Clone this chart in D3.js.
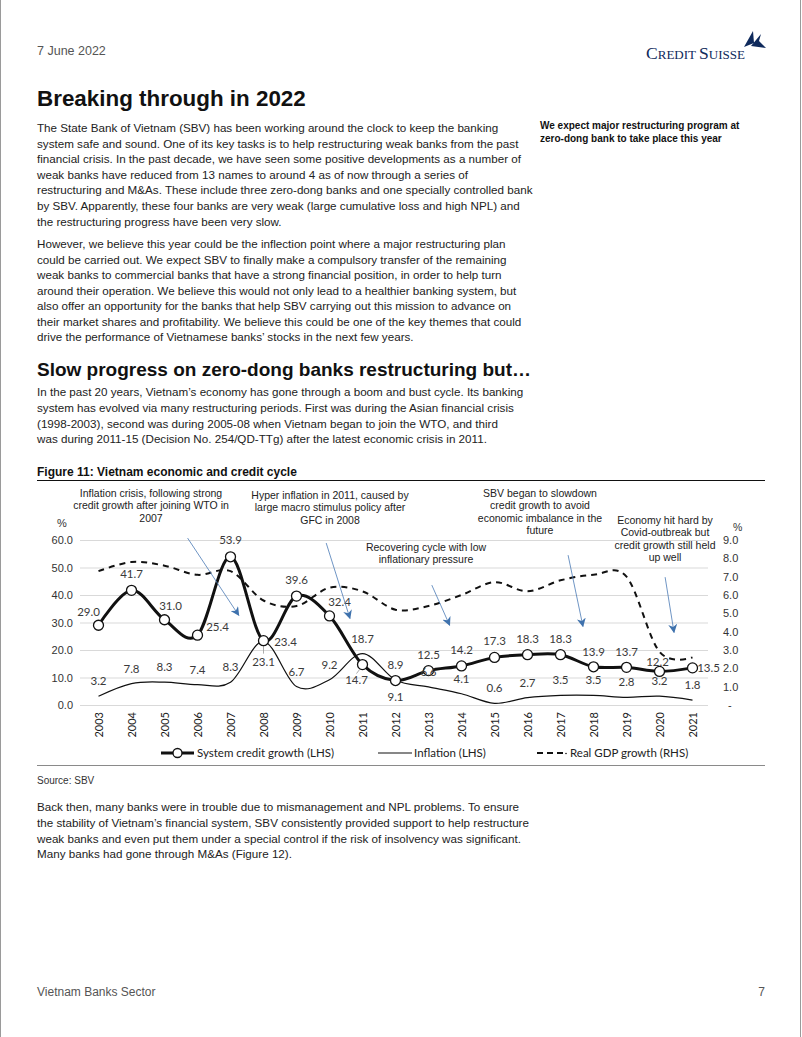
<!DOCTYPE html>
<html>
<head>
<meta charset="utf-8">
<script src="https://cdn.jsdelivr.net/npm/d3@7"></script>
<style>
  html, body { margin: 0; padding: 0; background: #fff; }
  svg { display: block; }
</style>
</head>
<body>
<script>
// ---------- DATA ----------
const years = [2003,2004,2005,2006,2007,2008,2009,2010,2011,2012,2013,2014,2015,2016,2017,2018,2019,2020,2021];
const creditGrowth = [29.0,41.7,31.0,25.4,53.9,23.4,39.6,32.4,14.7,8.9,12.5,14.2,17.3,18.3,18.3,13.9,13.7,12.2,13.5];
const inflation = [3.2,7.8,8.3,7.4,8.3,23.1,6.7,9.2,18.7,9.1,6.6,4.1,0.6,2.7,3.5,3.5,2.8,3.2,1.8];
const gdpGrowth = [7.3,7.8,7.6,7.1,7.3,5.7,5.4,6.4,6.2,5.2,5.4,6.0,6.7,6.2,6.8,7.1,7.0,2.9,2.6];
const leftTicks = [0,10,20,30,40,50,60];
const rightTicks = [0,1,2,3,4,5,6,7,8,9];
const seriesNames = ["System credit growth (LHS)", "Inflation (LHS)", "Real GDP growth (RHS)"];

// ---------- PAGE ----------
const W = 802, H = 1037;
const svg = d3.select("body").append("svg").attr("width", W).attr("height", H);
svg.append("rect").attr("width", W).attr("height", H).attr("fill", "#fff");
svg.append("line").attr("x1",0.5).attr("x2",0.5).attr("y1",0).attr("y2",H).attr("stroke","#9a9a9a");
svg.append("line").attr("x1",800.5).attr("x2",800.5).attr("y1",0).attr("y2",H).attr("stroke","#9a9a9a");

const bodyFont = "'Liberation Sans', Arial, Helvetica, sans-serif";
const calFont = "Lato, 'Open Sans', sans-serif";
const textCol = "#222";

// header
svg.append("text").attr("x",37).attr("y",55).attr("font-family",bodyFont).attr("font-size",12.5)
  .attr("fill","#555").text("7 June 2022");
const logo = svg.append("text").attr("x",646).attr("y",59).attr("font-family","'Liberation Serif', 'DejaVu Serif', serif")
  .attr("fill","#0f2a5c").attr("textLength",99).attr("lengthAdjust","spacingAndGlyphs");
logo.append("tspan").attr("font-size",17.5).text("C");
logo.append("tspan").attr("font-size",13).text("REDIT ");
logo.append("tspan").attr("font-size",17.5).text("S");
logo.append("tspan").attr("font-size",13).text("UISSE");
svg.append("path").attr("d","M744,47 L753,31 L754,43 Z").attr("fill","#0f2a5c");
svg.append("path").attr("d","M751,46 L761,34 L759,41 L766,48 Z").attr("fill","#0f2a5c");

// title
svg.append("text").attr("x",37).attr("y",106).attr("font-family",bodyFont).attr("font-weight","bold")
  .attr("font-size",22.4).attr("fill","#111").text("Breaking through in 2022");

// side note
svg.append("text").attr("x",540).attr("y",129).attr("font-family",bodyFont).attr("font-weight","bold")
  .attr("font-size",10).attr("fill","#111")
  .selectAll("tspan").data(["We expect major restructuring program at","zero-dong bank to take place this year"])
  .join("tspan").attr("x",540).attr("dy",(d,i)=>i?12.5:0).text(d=>d);

function para(lines, x, y0, lh) {
  const t = svg.append("text").attr("font-family",bodyFont).attr("font-size",11.65).attr("fill",textCol);
  lines.forEach((l,i)=>{ t.append("tspan").attr("x",x).attr("y",y0+i*lh).text(l); });
}
para([
  "The State Bank of Vietnam (SBV) has been working around the clock to keep the banking",
  "system safe and sound. One of its key tasks is to help restructuring weak banks from the past",
  "financial crisis. In the past decade, we have seen some positive developments as a number of",
  "weak banks have reduced from 13 names to around 4 as of now through a series of",
  "restructuring and M&As. These include three zero-dong banks and one specially controlled bank",
  "by SBV. Apparently, these four banks are very weak (large cumulative loss and high NPL) and",
  "the restructuring progress have been very slow."
], 37, 132, 15.6);
para([
  "However, we believe this year could be the inflection point where a major restructuring plan",
  "could be carried out. We expect SBV to finally make a compulsory transfer of the remaining",
  "weak banks to commercial banks that have a strong financial position, in order to help turn",
  "around their operation.  We believe this would not only lead to a healthier banking system, but",
  "also offer an opportunity for the banks that help SBV carrying out this mission to advance on",
  "their market shares and profitability. We believe this could be one of the key themes that could",
  "drive the performance of Vietnamese banks\u2019 stocks in the next few years."
], 37, 248, 15.5);

svg.append("text").attr("x",37).attr("y",376).attr("font-family",bodyFont).attr("font-weight","bold")
  .attr("font-size",19).attr("fill","#111").text("Slow progress on zero-dong banks restructuring but\u2026");

para([
  "In the past 20 years, Vietnam\u2019s economy has gone through a boom and bust cycle. Its banking",
  "system has evolved via many restructuring periods. First was during the Asian financial crisis",
  "(1998-2003), second was during 2005-08 when Vietnam began to join the WTO, and third",
  "was during 2011-15 (Decision No. 254/QD-TTg) after the latest economic crisis in 2011."
], 37, 396, 15.8);

// figure title
svg.append("text").attr("x",37).attr("y",476).attr("font-family",bodyFont).attr("font-weight","bold")
  .attr("font-size",12).attr("fill","#111").text("Figure 11: Vietnam economic and credit cycle");
svg.append("line").attr("x1",37).attr("x2",765).attr("y1",480.5).attr("y2",480.5).attr("stroke","#111").attr("stroke-width",1);

// ---------- CHART ----------
const x = d3.scalePoint().domain(years).range([82,709]).padding(0.5);
const xl = d3.scaleLinear().domain([2003,2021]).range([x(2003), x(2021)]);
const yL = d3.scaleLinear().domain([0,60]).range([705,540]);
const yR = d3.scaleLinear().domain([0,9]).range([705,540]);
const gridX0 = 80, gridX1 = 708;

const g = svg.append("g");
// gridlines
g.append("g").selectAll("line").data(leftTicks).join("line")
  .attr("x1",gridX0).attr("x2",gridX1).attr("y1",d=>yL(d)+0.5).attr("y2",d=>yL(d)+0.5)
  .attr("stroke","#d9d9d9").attr("stroke-width",1);

// left axis
const axL = g.append("g").attr("transform","translate(76,0)")
  .call(d3.axisLeft(yL).tickValues(leftTicks).tickFormat(d3.format(".1f")).tickSize(0).tickPadding(3));
axL.select(".domain").remove();
axL.selectAll("text").attr("font-family",bodyFont).attr("font-size",11).attr("fill","#333");
// right axis
const axR = g.append("g").attr("transform","translate(719,0)")
  .call(d3.axisRight(yR).tickValues(rightTicks).tickFormat(d=> d===0 ? "-" : d.toFixed(1)).tickSize(0).tickPadding(4));
axR.select(".domain").remove();
axR.selectAll("text").attr("font-family",bodyFont).attr("font-size",11).attr("fill","#333")
  .attr("dx", d=> d===0 ? 5 : 0);
// % labels
g.append("text").attr("x",57).attr("y",527).attr("font-family",bodyFont).attr("font-size",11).attr("fill","#333").text("%");
g.append("text").attr("x",733).attr("y",531).attr("font-family",bodyFont).attr("font-size",10.5).attr("fill","#333").text("%");

// x axis
const axX = g.append("g").attr("transform","translate(0,705)")
  .call(d3.axisBottom(x).tickSize(0).tickPadding(0));
axX.select(".domain").remove();
axX.selectAll("text").attr("font-family",calFont).attr("font-size",11).attr("fill","#222")
  .attr("text-anchor","end").attr("transform","translate(0,7) rotate(-90)").attr("dy","0.35em").attr("y",0).attr("x",0);

const curve = d3.curveCatmullRom.alpha(0);
const lineL = (arr) => d3.line().x((d,i)=>x(years[i])).y(d=>yL(d)).curve(curve)(arr);
const lineR = (arr) => d3.line().x((d,i)=>x(years[i])).y(d=>yR(d)).curve(curve)(arr);

// GDP dashed
g.append("path").attr("d",lineR(gdpGrowth)).attr("fill","none").attr("stroke","#111")
  .attr("stroke-width",2).attr("stroke-dasharray","6,5");
// inflation
g.append("path").attr("d",lineL(inflation)).attr("fill","none").attr("stroke","#111").attr("stroke-width",1.2);
// credit
g.append("path").attr("d",lineL(creditGrowth)).attr("fill","none").attr("stroke","#111").attr("stroke-width",3);

// leader lines
const leaderCol = "#999";
g.append("line").attr("x1",x(2008)).attr("x2",x(2008)).attr("y1",yL(creditGrowth[5])+5).attr("y2",yL(creditGrowth[5])+13)
  .attr("stroke",leaderCol).attr("stroke-width",0.8);
g.append("line").attr("x1",x(2011)-3).attr("x2",x(2011)-6).attr("y1",yL(creditGrowth[8])+5).attr("y2",yL(creditGrowth[8])+9)
  .attr("stroke",leaderCol).attr("stroke-width",0.8);

g.append("g").selectAll("circle").data(creditGrowth).join("circle")
  .attr("cx",(d,i)=>x(years[i])).attr("cy",d=>yL(d)).attr("r",5)
  .attr("fill","#fff").attr("stroke","#111").attr("stroke-width",1.3);

// data labels (offsets of label centres relative to point)
const creditLabelOffset = [[-10,-13],[0,-16],[6,-14],[20,-8],[0,-17],[22,1],[0,-16],[10,-14],[-6,15],[0,-16],
  [0,-16],[0,-16],[0,-16],[0,-16],[0,-16],[0,-15],[0,-15],[-2,-9],[16,0]];
const inflLabelOffset = years.map((y,i)=> y===2008 ? [0,20] : (y===2012 ? [0,17] : [0,-15]));
const labFmt = d3.format(".1f");
g.append("g").selectAll("text").data(creditGrowth).join("text")
  .attr("x",(d,i)=>x(years[i])+creditLabelOffset[i][0]).attr("y",(d,i)=>yL(d)+creditLabelOffset[i][1])
  .attr("dy","0.35em").attr("text-anchor","middle").attr("font-family",calFont).attr("font-size",11.5)
  .attr("fill","#3a3a3a").text(d=>labFmt(d));
g.append("g").selectAll("text").data(inflation).join("text")
  .attr("x",(d,i)=>x(years[i])+inflLabelOffset[i][0]).attr("y",(d,i)=>yL(d)+inflLabelOffset[i][1])
  .attr("dy","0.35em").attr("text-anchor","middle").attr("font-family",calFont).attr("font-size",11.5)
  .attr("fill","#3a3a3a").text(d=>labFmt(d));

// annotations
const annotations = [
  {cx:151, y:497, lines:["Inflation crisis, following strong","credit growth after joining WTO in","2007"], from:[2005.7,60.7], to:[2007.25,32.6]},
  {cx:330, y:499, lines:["Hyper inflation in 2011, caused by","large macro stimulus policy after","GFC in 2008"], from:[2009.9,58.9], to:[2010.62,31.5]},
  {cx:426, y:551, lines:["Recovering cycle with low","inflationary pressure"], from:[2013.1,43.6], to:[2013.64,29.0]},
  {cx:540, y:497, lines:["SBV began to slowdown","credit growth to avoid","economic imbalance in the","future"], from:[2017.23,54.5], to:[2017.68,28.6]},
  {cx:665, y:524, lines:["Economy hit hard by","Covid-outbreak but","credit growth still held","up well"], from:[2020.17,46.5], to:[2020.44,26.4]}
];
const defs = svg.append("defs");
defs.append("marker").attr("id","arr").attr("viewBox","0 0 10 10").attr("refX",9).attr("refY",5)
  .attr("markerWidth",9).attr("markerHeight",9).attr("markerUnits","userSpaceOnUse").attr("orient","auto")
  .append("path").attr("d","M0,0 L10,5 L0,10 L3,5 Z").attr("fill","#3f72ad");
annotations.forEach(a=>{
  const t = g.append("text").attr("font-family",bodyFont).attr("font-size",10.5).attr("fill","#222").attr("text-anchor","middle");
  a.lines.forEach((l,i)=> t.append("tspan").attr("x",a.cx).attr("y",a.y+i*12.3).text(l));
  g.append("line").attr("x1",xl(a.from[0])).attr("y1",yL(a.from[1])).attr("x2",xl(a.to[0])).attr("y2",yL(a.to[1]))
    .attr("stroke","#4a7ab5").attr("stroke-width",0.8).attr("marker-end","url(#arr)");
});

// legend
const lg = g.append("g").attr("font-family",calFont).attr("font-size",11.5).attr("fill","#222");
lg.append("line").attr("x1",161).attr("x2",194).attr("y1",753).attr("y2",753).attr("stroke","#111").attr("stroke-width",3);
lg.append("circle").attr("cx",177.5).attr("cy",753).attr("r",4.5).attr("fill","#fff").attr("stroke","#111").attr("stroke-width",1.3);
lg.append("text").attr("x",197).attr("y",753).attr("dy","0.35em").text(seriesNames[0]);
lg.append("line").attr("x1",378).attr("x2",412).attr("y1",753).attr("y2",753).attr("stroke","#111").attr("stroke-width",1.2);
lg.append("text").attr("x",414).attr("y",753).attr("dy","0.35em").text(seriesNames[1]);
lg.append("line").attr("x1",537).attr("x2",563).attr("y1",753).attr("y2",753).attr("stroke","#111").attr("stroke-width",2).attr("stroke-dasharray","6,4");
lg.append("circle").attr("cx",566).attr("cy",753.5).attr("r",0.8).attr("fill","#111");
lg.append("text").attr("x",570).attr("y",753).attr("dy","0.35em").text(seriesNames[2]);

svg.append("line").attr("x1",37).attr("x2",765).attr("y1",765.5).attr("y2",765.5).attr("stroke","#8a8a8a").attr("stroke-width",1);
svg.append("text").attr("x",37).attr("y",784).attr("font-family",bodyFont).attr("font-size",10).attr("fill","#333").text("Source: SBV");

para([
  "Back then, many banks were in trouble due to mismanagement and NPL problems. To ensure",
  "the stability of Vietnam\u2019s financial system, SBV consistently provided support to help restructure",
  "weak banks and even put them under a special control if the risk of insolvency was significant.",
  "Many banks had gone through M&As (Figure 12)."
], 37, 811, 15.8);

// footer
svg.append("text").attr("x",37).attr("y",996).attr("font-family",bodyFont).attr("font-size",12).attr("fill","#555").text("Vietnam Banks Sector");
svg.append("text").attr("x",765).attr("y",996).attr("text-anchor","end").attr("font-family",bodyFont).attr("font-size",12).attr("fill","#555").text("7");
</script>
</body>
</html>
